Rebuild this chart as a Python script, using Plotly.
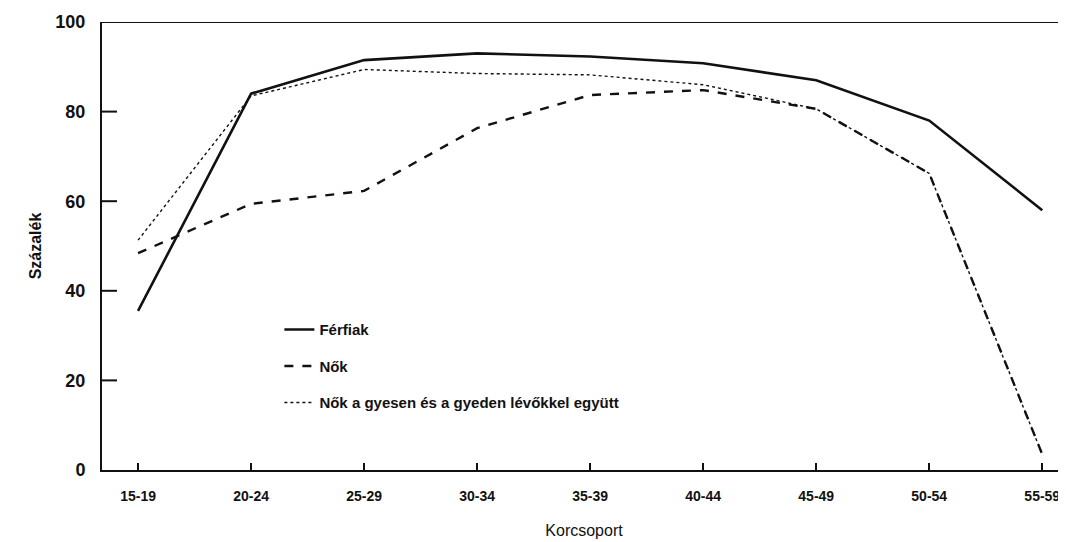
import plotly.graph_objects as go

categories = ["15-19", "20-24", "25-29", "30-34", "35-39", "40-44", "45-49", "50-54", "55-59"]
ferfiak = [35.5, 84, 91.5, 93, 92.3, 90.8, 87, 78, 58]
nok = [48.4, 59.4, 62.3, 76.3, 83.7, 84.8, 80.6, 66.2, 3.5]
nok_gyes = [51.3, 83.5, 89.4, 88.5, 88.2, 86, 80.6, 66.2, 3.5]
y_ticks = [0, 20, 40, 60, 80, 100]

INK = "#111111"
FONT = "Liberation Sans, Arial, sans-serif"
PLOT_W = 1058 - 94  # plot-area width in px

fig = go.Figure()
fig.add_trace(go.Scatter(x=categories, y=ferfiak, mode="lines", name="Férfiak",
                         legendgroup="a", line=dict(color=INK, width=2.6)))
fig.add_trace(go.Scatter(x=categories, y=nok, mode="lines", name="Nők",
                         legendgroup="b", line=dict(color=INK, width=2.4, dash="dash")))
fig.add_trace(go.Scatter(x=categories, y=nok_gyes, mode="lines",
                         name="Nők a gyesen és a gyeden lévőkkel együtt",
                         legendgroup="c", line=dict(color=INK, width=1.4, dash="dot")))

fig.update_layout(
    width=1058, height=534,
    margin=dict(l=94, r=0, t=14, b=72),
    paper_bgcolor="white", plot_bgcolor="white",
    font=dict(family=FONT, color=INK),
    showlegend=True,
    legend=dict(x=0.184, y=0.35, xanchor="left", yanchor="top",
                bgcolor="rgba(0,0,0,0)", tracegroupgap=14,
                font=dict(size=15, family=FONT, weight="bold"),
                itemwidth=30),
)
fig.update_xaxes(
    type="category", categoryorder="array", categoryarray=categories,
    range=[-0.319, 8.21], automargin=False,
    showline=True, linecolor=INK, linewidth=2,
    ticks="inside", ticklen=7, tickwidth=1.5, tickcolor=INK,
    tickfont=dict(size=14, family=FONT, weight="bold"),
    ticklabelstandoff=12,
    showgrid=False, zeroline=False,
    title=dict(text="Korcsoport", font=dict(size=16, family=FONT), standoff=22),
)
fig.update_yaxes(
    range=[0, 100], tickvals=y_ticks, ticktext=[str(v) for v in y_ticks],
    automargin=False,
    showline=True, linecolor=INK, linewidth=2,
    ticks="outside", ticklen=11, tickwidth=1, tickcolor="rgba(0,0,0,0)",
    tickfont=dict(size=18, family=FONT, weight="bold"),
    showgrid=False, zeroline=False,
    title=dict(text="Százalék", font=dict(size=16, family=FONT, weight="bold"), standoff=10),
)
# top border
fig.add_shape(type="line", xref="paper", yref="y", x0=0, x1=1, y0=100, y1=100,
              line=dict(color=INK, width=2))
# inward y tick marks
for v in y_ticks[1:-1]:
    fig.add_shape(type="line", xref="paper", yref="y", x0=0, x1=15 / PLOT_W,
                  y0=v, y1=v, line=dict(color=INK, width=2))

fig.write_html("out.html")
